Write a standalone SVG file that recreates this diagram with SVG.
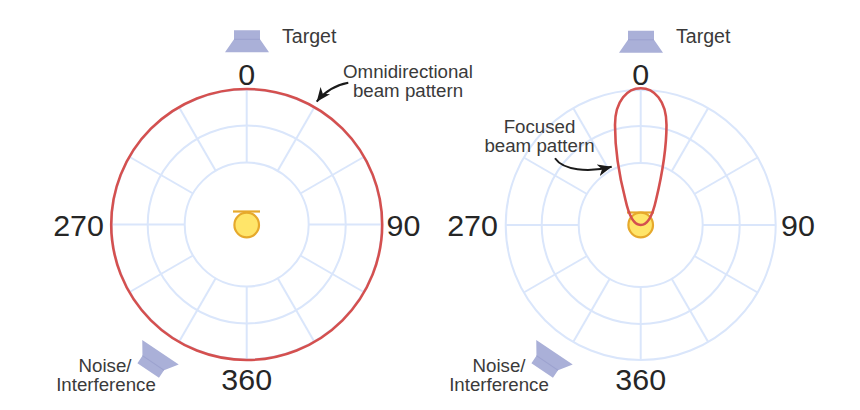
<svg xmlns="http://www.w3.org/2000/svg" xmlns:xlink="http://www.w3.org/1999/xlink" width="860" height="410" viewBox="0 0 860 410">
<style>
text{font-family:"Liberation Sans",Arial,sans-serif;fill:#3a3a3a;font-size:18.7px}
.tgt{font-size:19.6px}
.num{font-size:30.4px;fill:#262626;text-anchor:middle}
.mid{text-anchor:middle}
.grid{fill:none;stroke:#dae6fb;stroke-width:2}
.beam{fill:none;stroke:#d4504f;stroke-width:2.6}
.mic{fill:#ffe569;stroke:#e6a92c;stroke-width:2.2}
.bar{stroke:#e6a92c;stroke-width:2.2;fill:none}
.spk{fill:#aab0d8}
.spkline{stroke:#9ca2cf;stroke-width:1;fill:none}
.arrow{fill:none;stroke:#1a1a1a;stroke-width:2}
</style>
<defs>
<marker id="head" markerUnits="userSpaceOnUse" markerWidth="15" markerHeight="12" refX="14" refY="6" orient="auto">
<path d="M0,0 L14,6 L0,12 L4,6 z" fill="#1a1a1a"/>
</marker>
<g id="polar" class="grid">
<circle r="62"/><circle r="99"/><circle r="135"/>
<g id="spokes">
<path id="sp" d="M0,-62V-135"/>
<use xlink:href="#sp" href="#sp" transform="rotate(30)"/>
<use xlink:href="#sp" href="#sp" transform="rotate(60)"/>
<use xlink:href="#sp" href="#sp" transform="rotate(90)"/>
<use xlink:href="#sp" href="#sp" transform="rotate(120)"/>
<use xlink:href="#sp" href="#sp" transform="rotate(150)"/>
<use xlink:href="#sp" href="#sp" transform="rotate(180)"/>
<use xlink:href="#sp" href="#sp" transform="rotate(210)"/>
<use xlink:href="#sp" href="#sp" transform="rotate(240)"/>
<use xlink:href="#sp" href="#sp" transform="rotate(270)"/>
<use xlink:href="#sp" href="#sp" transform="rotate(300)"/>
<use xlink:href="#sp" href="#sp" transform="rotate(330)"/>
</g>
</g>
<g id="speaker">
<path class="spk" d="M-22,0H22L13,-13V-22H-13V-13Z"/>
<path class="spkline" d="M-13,-13H13"/>
</g>
</defs>

<g id="left-polar">
<use xlink:href="#polar" href="#polar" x="246.7" y="224.5"/>
<text class="num" x="246.7" y="84.5">0</text>
<text class="num" x="78.5" y="235.5">270</text>
<text class="num" x="403.5" y="235.5">90</text>
<text class="num" x="246.7" y="389.5">360</text>
</g>
<g id="left-beam">
<circle class="beam" cx="246.7" cy="224.5" r="135.5"/>
<text class="mid" x="408" y="78">Omnidirectional</text>
<text class="mid" x="408" y="97">beam pattern</text>
</g>
<g id="left-mic">
<path class="bar" d="M233,211.5H260"/>
<circle class="mic" cx="246.7" cy="225" r="12.3"/>
</g>
<g id="left-target">
<use xlink:href="#speaker" href="#speaker" transform="translate(247,52.3)"/>
<text class="tgt" x="282" y="43.3">Target</text>
</g>
<g id="left-noise">
<use xlink:href="#speaker" href="#speaker" transform="translate(160.5,352.2) rotate(214)"/>
<text class="mid" x="105" y="371.7">Noise/</text>
<text class="mid" x="106" y="390.7">Interference</text>
</g>

<g id="right-polar">
<use xlink:href="#polar" href="#polar" x="640.7" y="225"/>
<text class="num" x="640.7" y="84.5">0</text>
<text class="num" x="472.5" y="235.5">270</text>
<text class="num" x="798" y="235.5">90</text>
<text class="num" x="640.7" y="390">360</text>
</g>
<g id="right-mic">
<path class="bar" d="M627,212.5H654"/>
<circle class="mic" cx="640.7" cy="225" r="12.3"/>
</g>
<g id="right-beam">
<path class="beam" d="M640.7,225C634,225 629,216 625.5,200C619,175 615,150 615,125C615,100 628,88.3 640.7,88.3C653.5,88.3 666.5,100 666.5,125C666.5,150 662,175 656,200C652.5,216 647,225 640.7,225Z"/>
<text class="mid" x="539.5" y="132.7">Focused</text>
<text class="mid" x="539.5" y="152">beam pattern</text>
</g>
<g id="right-target">
<use xlink:href="#speaker" href="#speaker" transform="translate(641,52.8)"/>
<text class="tgt" x="676" y="43.3">Target</text>
</g>
<g id="right-noise">
<use xlink:href="#speaker" href="#speaker" transform="translate(554.5,352.2) rotate(214)"/>
<text class="mid" x="499" y="371.7">Noise/</text>
<text class="mid" x="499" y="390.7">Interference</text>
</g>

<g id="connectors">
<path class="arrow" marker-end="url(#head)" d="M348.3,82.7C336,85 325,91 316.7,101.7"/>
<path class="arrow" marker-end="url(#head)" d="M555,158.3C563,170 588,173 611.7,166.7"/>
</g>
</svg>
